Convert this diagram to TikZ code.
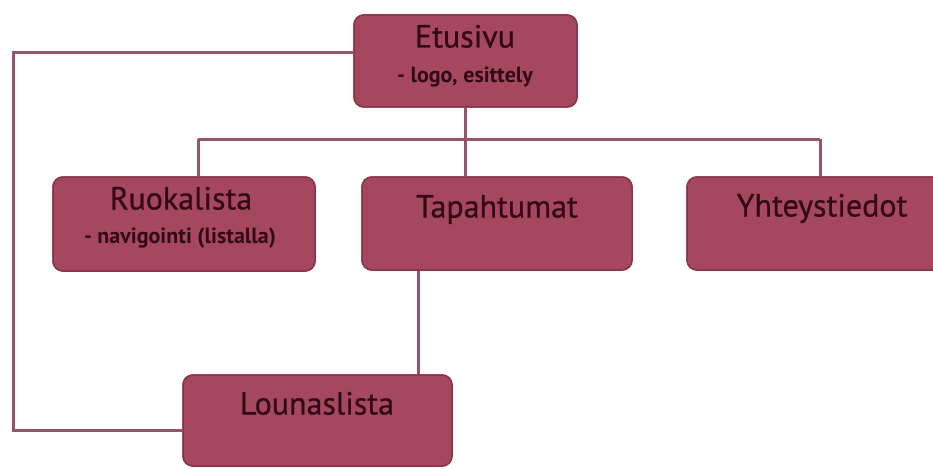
\documentclass[tikz,border=0pt]{standalone}
\usepackage{fontspec}
\setmainfont{PT Sans}
\newfontfamily\boxfont[FakeBold=0.6]{PT Sans}
\definecolor{boxfill}{RGB}{165,72,95}
\definecolor{boxedge}{RGB}{138,52,74}
\definecolor{linkcol}{RGB}{150,84,100}
\definecolor{inkcol}{RGB}{50,8,22}
\tikzset{
  page/.style={draw=boxedge, fill=boxfill, line width=1.5pt, rounded corners=10pt, inner sep=0pt},
  link/.style={draw=linkcol, line width=3pt},
  title/.style={text=inkcol, font=\boxfont\fontsize{32}{32}\selectfont, text height=0.7em, text depth=0pt, inner sep=0pt},
  sub/.style={text=inkcol, font=\fontsize{22}{22}\selectfont\bfseries, text height=0.7em, text depth=0pt, inner sep=0pt}
}
\begin{document}
\begin{tikzpicture}[x=1pt,y=-1pt]
\clip (0,0) rectangle (933,468);
\fill [white] (0,0) rectangle (933,468);
% boxes
\node [page, minimum width=223pt, minimum height=92pt] (etusivu) at (465.5,61) {};
\node [page, minimum width=262pt, minimum height=94pt] (ruoka) at (184,224) {};
\node [page, minimum width=270pt, minimum height=93pt] (tapahtumat) at (497,223.5) {};
\node [page, minimum width=270pt, minimum height=93pt] (yhteys) at (822,223.5) {};
\node [page, minimum width=269pt, minimum height=91pt] (lounas) at (317.5,420.5) {};
% connectors
\coordinate (fork) at (465.5,139);
\coordinate (forkL) at (198,139);
\coordinate (forkR) at (820,139);
\coordinate (drop) at (418,270);
\coordinate (corner) at (13,430);
\draw [link] ([yshift=8pt]etusivu.west) -| (corner) -- (corner -| lounas.west);
\draw [link] (etusivu.south) -- (etusivu.south |- tapahtumat.north);
\draw [link] (forkL) -- (forkR);
\draw [link] (forkL) -- (forkL |- ruoka.north);
\draw [link] (forkR) -- (forkR |- yhteys.north);
\draw [link] (drop |- tapahtumat.south) -- (drop |- lounas.north);
% redraw boxes over the lines
\node [page, minimum width=223pt, minimum height=92pt] at (etusivu) {};
\node [page, minimum width=262pt, minimum height=94pt] at (ruoka) {};
\node [page, minimum width=270pt, minimum height=93pt] at (tapahtumat) {};
\node [page, minimum width=270pt, minimum height=93pt] at (yhteys) {};
\node [page, minimum width=269pt, minimum height=91pt] at (lounas) {};
% texts
\node [title] (etusivu-t) at (465,44) {Etusivu};
\node [sub] (etusivu-s) at (465,79) {- logo, esittely};
\node [title] (ruoka-t) at (181,206) {Ruokalista};
\node [sub] (ruoka-s) at (180,240) {- navigointi (listalla)};
\node [title] (tapahtumat-t) at (497,214) {Tapahtumat};
\node [title] (yhteys-t) at (822,213) {Yhteystiedot};
\node [title] (lounas-t) at (317,411) {Lounaslista};
\end{tikzpicture}
\end{document}
